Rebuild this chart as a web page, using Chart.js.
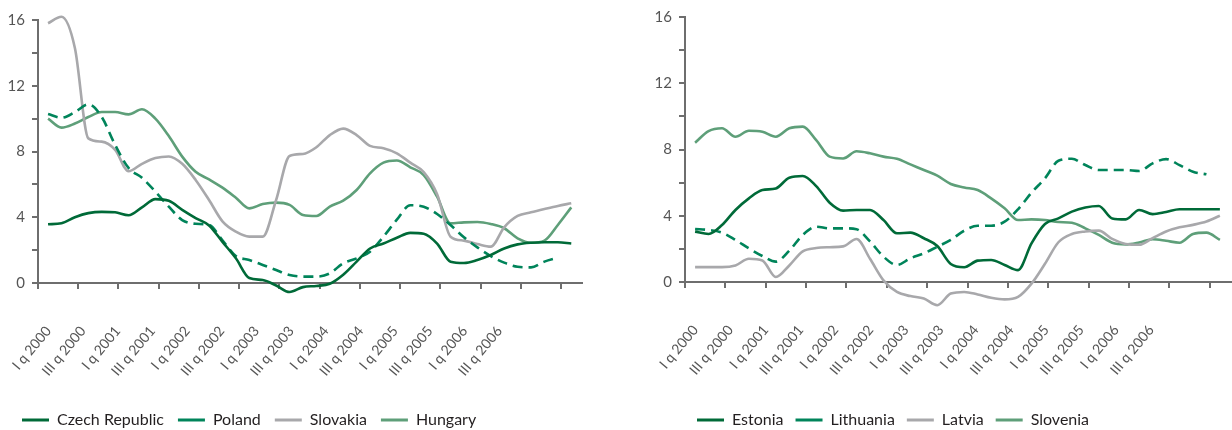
<!DOCTYPE html>
<html>
<head>
<meta charset="utf-8">
<script src="https://cdn.jsdelivr.net/npm/chart.js@4.4.1/dist/chart.umd.min.js"></script>
<style>
  html, body { margin: 0; padding: 0; background: #fff; overflow: hidden; }
  #leftBox { position: absolute; left: 0; top: 0; width: 600px; height: 440px; }
  #rightBox { position: absolute; left: 640px; top: 0; width: 592px; height: 440px; }
</style>
</head>
<body>
<div id="leftBox"><canvas id="leftChart"></canvas></div>
<div id="rightBox"><canvas id="rightChart"></canvas></div>
<script>
// months since January 2000, every second month
const months = [0, 2, 4, 6, 8, 10, 12, 14, 16, 18, 20, 22, 24, 26, 28, 30, 32, 34, 36, 38,
    40, 42, 44, 46, 48, 50, 52, 54, 56, 58, 60, 62, 64, 66, 68, 70, 72, 74, 76, 78];

const periodLabels = ["I q 2000", "III q 2000", "I q 2001", "III q 2001", "I q 2002", "III q 2002",
    "I q 2003", "III q 2003", "I q 2004", "III q 2004", "I q 2005", "III q 2005", "I q 2006", "III q 2006"];

const czech = [3.57, 3.63, 4.0, 4.25, 4.33, 4.3, 4.12, 4.6, 5.1, 5.0, 4.45, 3.95, 3.5, 2.5, 1.5, 0.3, 0.18, -0.15, -0.55, -0.25,
    -0.18, -0.05, 0.5, 1.3, 2.1, 2.4, 2.75, 3.05, 3.0, 2.4, 1.3, 1.22, 1.4, 1.7, 2.1, 2.35, 2.45, 2.48, 2.48, 2.4];
const poland = [10.28, 10.05, 10.4, 10.87, 10.1, 8.4, 7.0, 6.4, 5.56, 4.64, 3.83, 3.6, 3.53, 2.6, 1.64, 1.4, 1.1, 0.79, 0.49, 0.39,
    0.39, 0.59, 1.2, 1.5, 1.9, 2.82, 3.85, 4.73, 4.64, 4.2, 3.53, 2.78, 2.17, 1.64, 1.24, 0.99, 0.95, 1.3, 1.54, null];
const slovakia = [15.8, 16.2, 14.3, 8.8, 8.6, 8.1, 6.8, 7.25, 7.6, 7.7, 7.25, 6.27, 5.05, 3.75, 3.12, 2.82, 2.82, 5.05, 7.73, 7.85,
    8.26, 9.0, 9.39, 9.0, 8.34, 8.2, 7.89, 7.32, 6.75, 5.4, 2.82, 2.58, 2.37, 2.21, 3.39, 4.08, 4.3, 4.5, 4.69, 4.85];
const hungary = [10.0, 9.45, 9.7, 10.1, 10.4, 10.4, 10.26, 10.57, 10.0, 8.94, 7.69, 6.77, 6.3, 5.8, 5.19, 4.54, 4.8, 4.89, 4.75, 4.14,
    4.08, 4.65, 5.01, 5.66, 6.67, 7.32, 7.45, 7.04, 6.57, 5.25, 3.63, 3.69, 3.71, 3.59, 3.33, 2.72, 2.45, 2.58, 3.53, 4.6];

const estonia = [3.04, 2.9, 3.44, 4.35, 5.05, 5.55, 5.65, 6.3, 6.4, 5.79, 4.79, 4.31, 4.35, 4.35, 3.74, 2.94, 2.98, 2.64, 2.17, 1.09,
    0.89, 1.29, 1.33, 1.03, 0.72, 2.33, 3.5, 3.84, 4.25, 4.5, 4.59, 3.84, 3.78, 4.35, 4.1, 4.23, 4.39, 4.39, 4.39, 4.39];
const lithuania = [3.2, 3.14, 2.98, 2.54, 2.03, 1.57, 1.23, 1.89, 2.84, 3.34, 3.24, 3.24, 3.18, 2.45, 1.53, 1.03, 1.43, 1.73, 2.13, 2.54,
    3.1, 3.4, 3.4, 3.64, 4.39, 5.39, 6.26, 7.32, 7.44, 7.06, 6.76, 6.76, 6.76, 6.7, 7.16, 7.42, 7.06, 6.66, 6.5, null];
const latvia = [0.9, 0.9, 0.9, 1.0, 1.4, 1.3, 0.3, 1.0, 1.85, 2.05, 2.1, 2.15, 2.6, 1.4, 0.1, -0.6, -0.85, -1.0, -1.4, -0.7,
    -0.6, -0.75, -0.95, -1.05, -0.9, -0.1, 1.1, 2.4, 2.9, 3.05, 3.1, 2.6, 2.3, 2.25, 2.65, 3.05, 3.3, 3.45, 3.65, 4.0];
const slovenia = [8.41, 9.11, 9.28, 8.77, 9.13, 9.07, 8.77, 9.28, 9.38, 8.57, 7.57, 7.46, 7.89, 7.77, 7.57, 7.44, 7.1, 6.76, 6.42, 5.92,
    5.71, 5.55, 5.05, 4.45, 3.74, 3.78, 3.74, 3.62, 3.58, 3.24, 2.84, 2.37, 2.27, 2.39, 2.58, 2.49, 2.37, 2.9, 2.98, 2.54];

const fontFamily = "Lato, 'Liberation Sans', sans-serif";
const axisGray = "#6e6e6e";

const seriesStyles = [
    { color: "#006a38", dash: [] },
    { color: "#00845a", dash: [10, 6] },
    { color: "#a8a8ab", dash: [] },
    { color: "#5e9f79", dash: [] },
];

function makeDatasets(names, series) {
    return series.map((values, i) => ({
        label: names[i],
        data: months.map((m, j) => ({ x: m, y: values[j] })),
        borderColor: seriesStyles[i].color,
        backgroundColor: seriesStyles[i].color,
        borderDash: seriesStyles[i].dash,
        borderWidth: 2.6,
        pointRadius: 0,
        cubicInterpolationMode: "monotone",
        fill: false,
        clip: false,
    }));
}

function createChart(canvas, datasets, cfg) {
    return new Chart(canvas, {
        type: "line",
        data: { datasets: datasets },
        options: {
            animation: false,
            responsive: true,
            maintainAspectRatio: false,
            layout: { padding: cfg.padding },
            plugins: {
                tooltip: { enabled: false },
                legend: {
                    position: "bottom",
                    align: "start",
                    fullSize: cfg.legendFullSize,
                    labels: {
                        usePointStyle: true,
                        pointStyle: "line",
                        pointStyleWidth: 27,
                        padding: cfg.legendGap,
                        color: "#231f20",
                        font: { family: fontFamily, size: 16 },
                        generateLabels: (chart) => {
                            const items = Chart.defaults.plugins.legend.labels.generateLabels(chart);
                            items.forEach((item) => {
                                item.pointStyle = "line";
                                item.lineWidth = 3;
                                if (item.lineDash && item.lineDash.length) item.lineDash = [8, 9];
                            });
                            return items;
                        },
                    },
                },
            },
            scales: {
                x: {
                    type: "linear",
                    position: "bottom",
                    weight: 0,
                    min: cfg.xMin,
                    max: cfg.xMax,
                    ticks: { display: false },
                    grid: { drawOnChartArea: false, drawTicks: true, tickLength: 6, color: axisGray, lineWidth: 2 },
                    border: { color: axisGray, width: 2 },
                    afterBuildTicks: (scale) => {
                        const ticks = [];
                        for (let v = scale.min; v < scale.max; v += 6) ticks.push({ value: v });
                        scale.ticks = ticks;
                    },
                },
                xl: {
                    type: "linear",
                    position: "bottom",
                    weight: 1,
                    min: cfg.labelMin,
                    max: cfg.labelMax,
                    grid: { display: false },
                    border: { display: false },
                    ticks: {
                        autoSkip: false,
                        minRotation: 50,
                        maxRotation: 50,
                        padding: 26,
                        color: "#555",
                        font: { family: fontFamily, size: 14 },
                        callback: (v, i) => periodLabels[i],
                    },
                    afterBuildTicks: (scale) => {
                        scale.ticks = periodLabels.map((t, i) => ({ value: i }));
                    },
                    afterFit: (scale) => {
                        scale.height = cfg.labelHeight;
                        scale.paddingLeft = 0;
                        scale.paddingRight = 0;
                    },
                },
                y: {
                    min: 0,
                    max: 16,
                    ticks: {
                        stepSize: 2,
                        padding: 7,
                        color: "#555",
                        font: { family: fontFamily, size: 15 },
                        callback: (v) => (v % 4 === 0 ? String(v) : ""),
                    },
                    grid: { drawOnChartArea: false, tickLength: 6, color: axisGray, lineWidth: 2 },
                    border: { color: axisGray, width: 2 },
                    afterFit: (scale) => { scale.width = cfg.yWidth; },
                },
            },
        },
    });
}

createChart(document.getElementById("leftChart"),
    makeDatasets(["Czech Republic", "Poland", "Slovakia", "Hungary"], [czech, poland, slovakia, hungary]),
    {
        padding: { left: 8, right: 18, top: 20, bottom: 2 },
        legendFullSize: true,
        legendGap: 14,
        yWidth: 30,
        xMin: -1.5, xMax: 79.6,
        labelMin: -0.3, labelMax: 15.38,
        labelHeight: 109,
    });

createChart(document.getElementById("rightChart"),
    makeDatasets(["Estonia", "Lithuania", "Latvia", "Slovenia"], [estonia, lithuania, latvia, slovenia]),
    {
        padding: { left: 0, right: 0, top: 17, bottom: 2 },
        legendFullSize: false,
        legendGap: 12,
        yWidth: 45,
        xMin: -1.5, xMax: 79.8,
        labelMin: -0.3, labelMax: 15.3,
        labelHeight: 112,
    });
</script>
</body>
</html>
